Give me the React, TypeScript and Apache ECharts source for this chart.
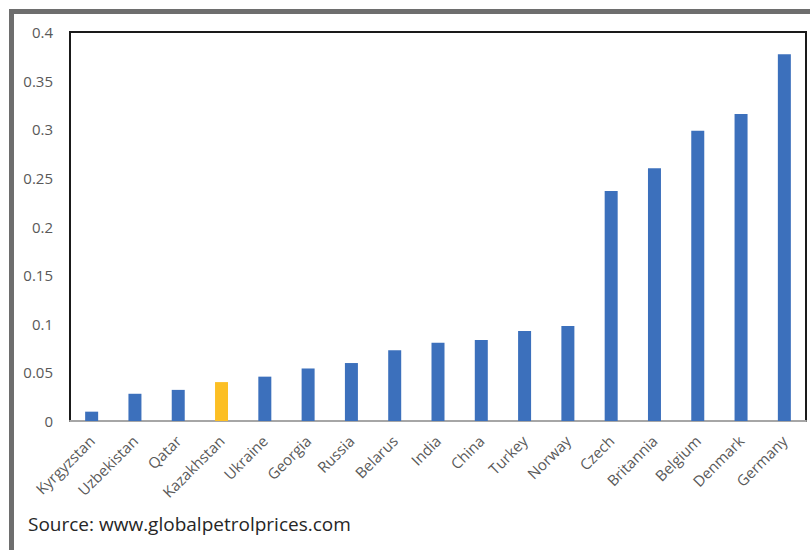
import React, { useEffect, useRef } from "react";
import * as echarts from "echarts";

const countries = [
  "Kyrgyzstan", "Uzbekistan", "Qatar", "Kazakhstan", "Ukraine", "Georgia", "Russia",
  "Belarus", "India", "China", "Turkey", "Norway", "Czech", "Britannia", "Belgium",
  "Denmark", "Germany",
];
const values = [
  0.0096, 0.028, 0.032, 0.040, 0.0456, 0.054, 0.0596, 0.0727, 0.0805, 0.0833, 0.0925,
  0.0977, 0.2365, 0.26, 0.2985, 0.3157, 0.377,
];
const highlight = "Kazakhstan";
const sourceText = "Source: www.globalpetrolprices.com";

export default function App() {
  const ref = useRef<HTMLDivElement>(null);
  useEffect(() => {
    if (!ref.current) return;
    const chart = echarts.init(ref.current, undefined, { renderer: "svg" });
    chart.setOption({
      animation: false,
      backgroundColor: "#ffffff",
      textStyle: { fontFamily: "Open Sans" },
      grid: {
        left: 70,
        top: 32,
        right: 4,
        bottom: 129,
        show: true,
        borderColor: "#1a1a1a",
        borderWidth: 2,
        backgroundColor: "transparent",
      },
      xAxis: {
        type: "category",
        data: countries,
        axisLine: { show: true, lineStyle: { color: "#a6a6a6", width: 2 } },
        axisTick: { show: false },
        axisLabel: {
          interval: 0,
          rotate: 45,
          color: "#595959",
          fontSize: 15,
          margin: 17,
          fontFamily: "Open Sans",
        },
      },
      yAxis: {
        type: "value",
        min: 0,
        max: 0.4,
        interval: 0.05,
        axisLine: { show: false },
        axisTick: { show: false },
        splitLine: { show: false },
        axisLabel: { color: "#595959", fontSize: 15, margin: 17, fontFamily: "Open Sans" },
      },
      series: [
        {
          type: "bar",
          barWidth: 13,
          data: countries.map((c, i) => ({
            value: values[i],
            itemStyle: { color: c === highlight ? "#fcbf24" : "#3c70bc" },
          })),
        },
      ],
      graphic: [
        { type: "rect", shape: { x: 9, y: 9, width: 801, height: 5 }, style: { fill: "#6e6e6e" } },
        { type: "rect", shape: { x: 9, y: 9, width: 5, height: 541 }, style: { fill: "#6e6e6e" } },
        {
          type: "text",
          left: 28,
          top: 514,
          style: { text: sourceText, fill: "#262626", fontSize: 19, fontFamily: "Open Sans" },
        },
      ],
    });
    return () => chart.dispose();
  }, []);
  return (
    <div
      ref={ref}
      style={{ position: "absolute", left: 0, top: 0, width: 810, height: 550 }}
    />
  );
}
